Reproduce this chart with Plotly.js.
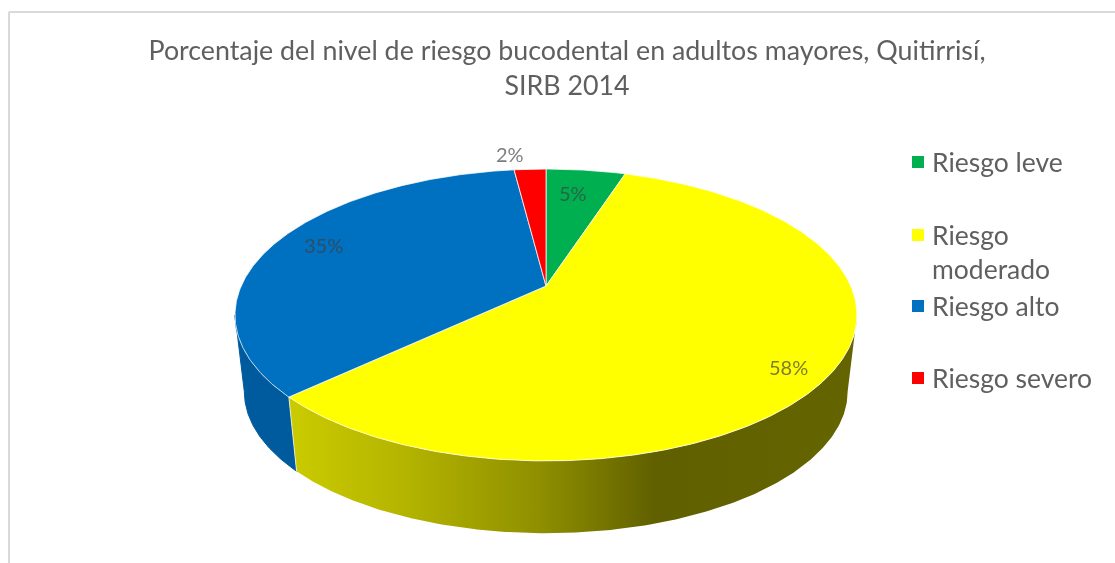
<!DOCTYPE html>
<html>
<head>
<meta charset="utf-8">
<script src="https://cdn.plot.ly/plotly-3.0.1.min.js"></script>
<style>html,body{margin:0;padding:0;background:#fff}#chart{width:1115px;height:563px;filter:blur(0.45px)}</style>
</head>
<body>
<div id="chart"></div>
<script>
// Data
const categories = ["Riesgo leve", "Riesgo moderado", "Riesgo alto", "Riesgo severo"];
const legendLabels = ["Riesgo leve", "Riesgo<br>moderado", "Riesgo alto", "Riesgo severo"];
const values = [5, 58, 35, 2];
const titleText = "Porcentaje del nivel de riesgo bucodental en adultos mayores, Quitirrisí,<br>SIRB 2014";

// Styles
const colors = ["#00b050", "#ffff00", "#0070c0", "#ff0000"];
const wallBlue = "#005b9e";
const textColor = "#5f5f5f";
const fontFamily = "Lato, 'Open Sans', sans-serif";

// Placement (axis units follow the page's pixel grid)
const pie = {cx: 546, cy: 286, A: 304.8, B: 140.2, k: 0.1986};
const base = {scale: 0.97, cy: 363.5};
const labelX = [573, 788, 323, 510];
const labelY = [193, 367, 245, 154];
const legendMarkerY = [162, 235, 306, 378];
const legendTextY = [162, 251.5, 306, 378];
const gradientStart = 290, gradientStop = 860;
const wallStops = [[290, "rgb(203,203,0)"], [400, "rgb(181,181,0)"], [540, "rgb(143,143,0)"], [655, "rgb(96,96,0)"], [860, "rgb(100,100,0)"]];

function topPoint(deg) {
  const t = deg * Math.PI / 180, u = Math.sin(t), v = Math.cos(t), w = 1 + pie.k * v;
  return [pie.cx + pie.A * u / w, pie.cy - pie.B * v / w];
}
function basePoint(deg) {
  const t = deg * Math.PI / 180, u = Math.sin(t), v = Math.cos(t), w = 1 + pie.k * v;
  return [pie.cx + base.scale * pie.A * u / w, base.cy - base.scale * pie.B * v / w];
}
function arc(fn, a, b) {
  const n = Math.max(2, Math.ceil(Math.abs(b - a) * 2)), out = [];
  for (let i = 0; i <= n; i++) out.push(fn(a + (b - a) * i / n));
  return out;
}
function poly(points, color, lineColor, lineWidth) {
  return {type: "scatter", mode: "lines", x: points.map(p => p[0]), y: points.map(p => p[1]),
    fill: "toself", fillcolor: color, line: {color: lineColor || color, width: lineWidth === undefined ? 1 : lineWidth},
    hoverinfo: "skip", showlegend: false};
}

// Slice angles from the values, clockwise from 12 o'clock
const total = values.reduce((a, b) => a + b, 0);
const spans = [];
let acc = 0;
values.forEach(v => { spans.push([acc / total * 360, (acc + v) / total * 360]); acc += v; });

// Angles at which the top face reaches its left and right extremes
const rightExtreme = Math.acos(-pie.k) * 180 / Math.PI;
const leftExtreme = 360 - rightExtreme;

const traces = [];
// Side walls
const blueA = spans[2][0];
traces.push(poly(arc(topPoint, blueA, leftExtreme).concat(arc(basePoint, leftExtreme, blueA)), wallBlue));
const yellowEnd = spans[1][1];
const yellowWall = poly(arc(topPoint, rightExtreme, yellowEnd).concat(arc(basePoint, yellowEnd, rightExtreme)), "rgb(143,143,0)", "rgba(0,0,0,0)", 0);
yellowWall.fillgradient = {type: "horizontal", start: gradientStart, stop: gradientStop,
  colorscale: wallStops.map(s => [(s[0] - gradientStart) / (gradientStop - gradientStart), s[1]])};
traces.push(yellowWall);
// Edge between the two walls
const jt = topPoint(yellowEnd), jb = basePoint(yellowEnd);
traces.push({type: "scatter", mode: "lines", x: [jt[0], jb[0]], y: [jt[1], jb[1]],
  line: {color: "rgba(235,240,225,0.85)", width: 1}, hoverinfo: "skip", showlegend: false});
// Top face
values.forEach((v, i) => {
  const pts = [[pie.cx, pie.cy]].concat(arc(topPoint, spans[i][0], spans[i][1]));
  pts.push([pie.cx, pie.cy]);
  traces.push(poly(pts, colors[i], "rgba(255,255,255,0.75)", 1));
});
// Legend swatches
traces.push({type: "scatter", mode: "markers", x: categories.map(() => 918), y: legendMarkerY,
  marker: {symbol: "square", size: 12, color: colors}, text: categories, hoverinfo: "text", showlegend: false});

const annotations = [];
values.forEach((v, i) => annotations.push({x: labelX[i], y: labelY[i], xref: "x", yref: "y", text: v + "%",
  showarrow: false, xanchor: "center", yanchor: "middle",
  font: {family: fontFamily, size: 20, color: "rgba(64,64,64,0.68)"}}));
legendLabels.forEach((t, i) => annotations.push({x: 930, y: legendTextY[i], xref: "x", yref: "y", text: t,
  showarrow: false, xanchor: "left", yanchor: "middle", align: "left",
  font: {family: fontFamily, size: 26.5, color: textColor}}));

const layout = {
  width: 1115, height: 563, margin: {l: 0, r: 0, t: 0, b: 0},
  paper_bgcolor: "#fff", plot_bgcolor: "rgba(0,0,0,0)", showlegend: false,
  title: {text: titleText, x: 567 / 1115, xanchor: "center", xref: "paper", y: 1 - 60 / 563, yanchor: "top", yref: "container",
    font: {family: fontFamily, size: 26.8, color: textColor}},
  xaxis: {range: [0, 1115], visible: false, fixedrange: true},
  yaxis: {range: [563, 0], visible: false, fixedrange: true},
  shapes: [
    {type: "line", xref: "x", yref: "y", x0: 9, x1: 1115, y0: 12, y1: 12, line: {color: "#d9d9d9", width: 2}},
    {type: "line", xref: "x", yref: "y", x0: 9, x1: 9, y0: 12, y1: 563, line: {color: "#d9d9d9", width: 2}}
  ],
  annotations: annotations
};
Plotly.newPlot("chart", traces, layout, {displayModeBar: false});
</script>
</body>
</html>
